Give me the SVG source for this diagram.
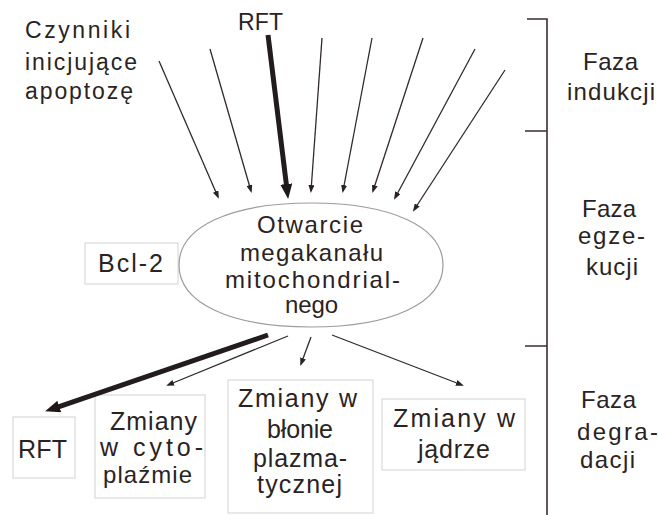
<svg xmlns="http://www.w3.org/2000/svg" width="658" height="515" viewBox="0 0 658 515">
<style>
text{font-family:"Liberation Sans",Arial,sans-serif;fill:#2b2323;}
.s23{font-size:23px}
.s24{font-size:24px}
.s25{font-size:25px}
.box{fill:#fff;stroke:#d2d2d2;stroke-width:1}
.thin{stroke:#332a2a;stroke-width:1.3;fill:none;marker-end:url(#ah)}
.thick{stroke:#231c1c;stroke-width:5;fill:none;marker-end:url(#ahb)}
.br{stroke:#3a2e2e;stroke-width:1.6;fill:none}
</style>
<defs>
<marker id="ah" markerUnits="userSpaceOnUse" markerWidth="8" markerHeight="6" refX="6" refY="3" orient="auto">
<path d="M0,0 L8,3 L0,6 z" fill="#2a2222"/>
</marker>
<marker id="ahb" markerUnits="userSpaceOnUse" markerWidth="15" markerHeight="12" refX="4" refY="6" orient="auto">
<path d="M0,0 L15,6 L0,12 z" fill="#1f1818"/>
</marker>
</defs>
<rect width="658" height="515" fill="#fff"/>

<g id="czynniki">
<text class="s23" x="25" y="38" textLength="105">Czynniki</text>
<text class="s23" x="25" y="70" textLength="112">inicjujące</text>
<text class="s23" x="25" y="99" textLength="108">apoptozę</text>
</g>
<g id="rft-top">
<text class="s23" x="238" y="30" textLength="45">RFT</text>
</g>

<g id="phases">
<path class="br" d="M527,19 H547 V515 M525,131 H547 M525,346 H547"/>
<text class="s24" x="583" y="70" textLength="55">Faza</text>
<text class="s24" x="567" y="100" textLength="88">indukcji</text>
<text class="s24" x="582" y="217" textLength="54">Faza</text>
<text class="s24" x="578" y="244" textLength="67">egze-</text>
<text class="s24" x="586" y="275" textLength="52">kucji</text>
<text class="s24" x="581" y="408" textLength="55">Faza</text>
<text class="s24" x="577" y="440" textLength="81">degra-</text>
<text class="s24" x="580" y="468" textLength="55">dacji</text>
</g>

<g id="bcl2">
<rect class="box" x="85" y="243" width="93" height="41"/>
<text class="s25" x="98" y="272" textLength="65">Bcl-2</text>
</g>

<g id="megakanal">
<path d="M443,265 C443,303 392,327 311,327 C230,327 179,303 179,265 C179,227 230,203 311,203 C392,203 443,227 443,265 z" fill="none" stroke="#a09a9a" stroke-width="1.2"/>
<text class="s24" x="257" y="233" textLength="106">Otwarcie</text>
<text class="s24" x="240" y="261" textLength="143">megakanału</text>
<text class="s24" x="225" y="288" textLength="175">mitochondrial-</text>
<text class="s24" x="285" y="313" textLength="53">nego</text>
</g>

<g id="rft-bottom">
<rect class="box" x="13" y="417" width="62" height="61"/>
<text class="s25" x="18" y="458" textLength="49">RFT</text>
</g>
<g id="cytoplazma">
<rect class="box" x="95" y="395" width="110" height="103"/>
<text class="s25" x="110" y="430" textLength="87">Zmiany</text>
<text class="s25" x="100" y="456" textLength="103">w cyto-</text>
<text class="s24" x="103" y="483" textLength="89">plaźmie</text>
</g>
<g id="blona">
<rect class="box" x="228" y="380" width="145" height="133"/>
<text class="s25" x="238" y="407" textLength="119">Zmiany w</text>
<text class="s25" x="267" y="438" textLength="66">błonie</text>
<text class="s25" x="253" y="467" textLength="94">plazma-</text>
<text class="s25" x="257" y="493" textLength="85">tycznej</text>
</g>
<g id="jadro">
<rect class="box" x="382" y="399" width="143" height="71"/>
<text class="s25" x="393" y="427" textLength="122">Zmiany w</text>
<text class="s25" x="418" y="458" textLength="72">jądrze</text>
</g>

<g id="connectors">
<line class="thin" x1="159" y1="61" x2="218" y2="197"/>
<line class="thin" x1="210" y1="49" x2="251" y2="191"/>
<line class="thick" x1="268" y1="35" x2="286.8" y2="188"/>
<line class="thin" x1="322" y1="38" x2="311" y2="191"/>
<line class="thin" x1="372" y1="38" x2="343" y2="191"/>
<line class="thin" x1="423" y1="38" x2="373" y2="191"/>
<line class="thin" x1="475" y1="49" x2="395" y2="198"/>
<line class="thin" x1="505" y1="70" x2="414" y2="210"/>
<line class="thick" x1="268" y1="335" x2="55.5" y2="407.8"/>
<line class="thin" x1="288" y1="336" x2="168" y2="385"/>
<line class="thin" x1="311" y1="337" x2="301" y2="364"/>
<line class="thin" x1="332" y1="335" x2="462" y2="385"/>
</g>
</svg>
